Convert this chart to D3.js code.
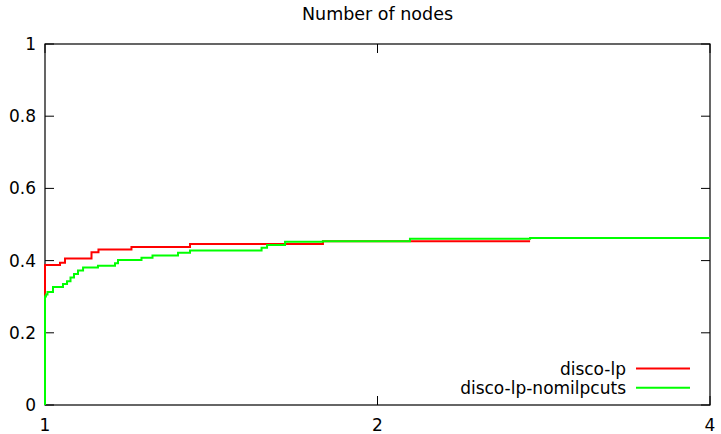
<!DOCTYPE html>
<html lang="en">
  <head>
    <meta charset="UTF-8" />
    <title>Number of nodes</title>
    <script src="https://cdn.jsdelivr.net/npm/d3@7"></script>
    <style>
      body { margin: 0; background: #fff; }
      text { font-family: "DejaVu Sans", sans-serif; font-size: 17px; fill: #000; }
    </style>
  </head>
  <body>
    <svg id="chart" width="721" height="434"></svg>
    <script>
      // performance profile steps: [ratio, fraction of instances]
      const discoLp = [
        [1, 0], [1, 0.388], [1.0318, 0.394], [1.0426, 0.406], [1.1018, 0.423],
        [1.1179, 0.431], [1.1975, 0.438], [1.353, 0.446], [1.785, 0.4535],
        [2.749, 0.4535]
      ];
      const discoLpNomilpcuts = [
        [1, 0], [1, 0.3006], [1.002, 0.306], [1.0052, 0.313], [1.0168, 0.327],
        [1.0382, 0.335], [1.047, 0.343], [1.0546, 0.353], [1.0623, 0.363],
        [1.0712, 0.3726], [1.0826, 0.381], [1.1167, 0.386], [1.1571, 0.393],
        [1.1644, 0.4017], [1.2228, 0.408], [1.2512, 0.414], [1.3195, 0.422],
        [1.353, 0.428], [1.5706, 0.4357], [1.5887, 0.4432], [1.6494, 0.452],
        [1.785, 0.4535], [2.14, 0.4607], [2.749, 0.4626], [4, 0.4626]
      ];
      const seriesNames = ["disco-lp", "disco-lp-nomilpcuts"];
      const seriesColors = ["#ff0000", "#00ff00"];
      const xTicks = [1, 2, 4];
      const yTicks = [0, 0.2, 0.4, 0.6, 0.8, 1];

      const margin = { top: 44, right: 11, bottom: 29, left: 45 };
      const width = 721 - margin.left - margin.right;
      const height = 434 - margin.top - margin.bottom;

      const svg = d3.select("#chart");
      const g = svg.append("g")
        .attr("transform", `translate(${margin.left},${margin.top})`);

      const x = d3.scaleLog().base(2).domain([1, 4]).range([0, width]);
      const y = d3.scaleLinear().domain([0, 1]).range([height, 0]);

      // title
      svg.append("text")
        .attr("x", margin.left + width / 2)
        .attr("y", 20)
        .attr("text-anchor", "middle")
        .style("font-size", "17.5px")
        .text("Number of nodes");

      // ticks (inside, mirrored like gnuplot)
      const tickLen = 9;
      yTicks.forEach(v => {
        g.append("line").attr("x1", 0).attr("x2", tickLen)
          .attr("y1", y(v)).attr("y2", y(v)).attr("stroke", "#000");
        g.append("line").attr("x1", width).attr("x2", width - tickLen)
          .attr("y1", y(v)).attr("y2", y(v)).attr("stroke", "#000");
        g.append("text")
          .attr("x", -9).attr("y", y(v) + 6)
          .attr("text-anchor", "end")
          .text(d3.format("")(v));
      });
      xTicks.forEach(v => {
        g.append("line").attr("x1", x(v)).attr("x2", x(v))
          .attr("y1", height).attr("y2", height - tickLen).attr("stroke", "#000");
        g.append("line").attr("x1", x(v)).attr("x2", x(v))
          .attr("y1", 0).attr("y2", tickLen).attr("stroke", "#000");
        g.append("text")
          .attr("x", x(v)).attr("y", height + 26)
          .attr("text-anchor", "middle")
          .text(v);
      });

      // frame
      g.append("rect")
        .attr("width", width).attr("height", height)
        .attr("fill", "none").attr("stroke", "#000").attr("stroke-width", 1.2);

      const line = d3.line()
        .x(d => x(d[0]))
        .y(d => y(d[1]))
        .curve(d3.curveStepAfter);

      [discoLp, discoLpNomilpcuts].forEach((data, i) => {
        g.append("path")
          .datum(data)
          .attr("fill", "none")
          .attr("stroke", seriesColors[i])
          .attr("stroke-width", 2)
          .attr("d", line);
      });

      // legend
      seriesNames.forEach((name, i) => {
        const ly = 368.5 + i * 19.3 - margin.top;
        g.append("text")
          .attr("x", 626 - margin.left).attr("y", ly + 6)
          .attr("text-anchor", "end")
          .text(name);
        g.append("line")
          .attr("x1", 636 - margin.left).attr("x2", 690 - margin.left)
          .attr("y1", ly).attr("y2", ly)
          .attr("stroke", seriesColors[i]).attr("stroke-width", 2);
      });
    </script>
  </body>
</html>
